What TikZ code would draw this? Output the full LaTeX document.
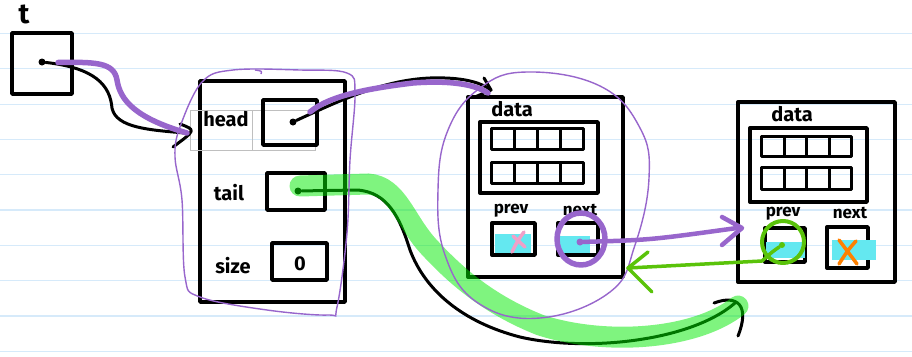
\documentclass[tikz,border=0pt]{standalone}
\usepackage{fontspec}
\setmainfont{Fira Sans}
\definecolor{rulec}{RGB}{214,234,250}
\definecolor{purp}{RGB}{152,102,204}
\definecolor{hlgreen}{RGB}{0,235,0}
\definecolor{arrgreen}{RGB}{90,195,10}
\definecolor{cyanf}{RGB}{100,232,240}
\definecolor{pinkx}{RGB}{240,160,200}
\definecolor{orangex}{RGB}{255,128,0}
\tikzset{
  hand/.style={draw=black,line width=3.4pt,line cap=round,line join=round},
  box/.style={hand,rectangle,inner sep=0pt},
  cellbox/.style={hand,rectangle,inner sep=0pt,anchor=north west},
  thinbox/.style={draw=black!25,line width=0.8pt,rectangle,inner sep=0pt},
  lbl/.style={font=\fontsize{20}{20}\selectfont\bfseries,inner sep=0pt},
  smlbl/.style={font=\fontsize{17}{17}\selectfont\bfseries,inner sep=0pt},
  dotb/.style={circle,fill=black,inner sep=0pt,minimum size=7pt},
  dotp/.style={circle,fill=purp,inner sep=0pt,minimum size=7pt},
  dotg/.style={circle,fill=arrgreen,inner sep=0pt,minimum size=6pt},
  purpthick/.style={draw=purp,line width=5.5pt,line cap=round,line join=round},
  purpthin/.style={draw=purp,line width=1.4pt},
  hl/.style={draw=hlgreen,draw opacity=0.5,line width=21pt,line cap=round},
  garrow/.style={draw=arrgreen,line width=3.5pt,line cap=round,line join=round},
  rule/.style={draw=rulec,line width=1.2pt}
}
\begin{document}
\begin{tikzpicture}[x=1pt,y=-1pt]
\useasboundingbox (0,0) rectangle (912,356);
\fill[white] (0,0) rectangle (912,356);
% ruled lines
\foreach \k in {0,...,9} \draw[rule] (0,33.5+35.3*\k) -- (912,33.5+35.3*\k);

% ---- t pointer ----
\node[font=\fontsize{28}{28}\selectfont\bfseries,inner sep=0pt] (tlabel) at (24,14) {t};
\node[box,minimum width=60pt,minimum height=61pt] (tbox) at (42,63.5) {};
\node[dotb] (tdot) at (42,62) {};

% ---- list struct ----
\node[box,minimum width=145pt,minimum height=221pt] (list) at (272.5,191.5) {};
\node[thinbox,minimum width=62pt,minimum height=40pt] (headcell) at (221,130) {};
\node[thinbox,minimum width=63pt,minimum height=40pt] (headvcell) at (283.5,130) {};
\node[lbl] (headlbl) at (226,119) {head};
\node[box,minimum width=54pt,minimum height=45pt] (headbox) at (290,122.5) {};
\node[dotb] (headdot) at (293,122) {};
\node[lbl] (taillbl) at (229,193) {tail};
\node[box,minimum width=58pt,minimum height=37pt] (tailbox) at (296,191.5) {};
\node[dotb] (taildot) at (298,191) {};
\node[lbl] (sizelbl) at (233,266) {size};
\node[box,minimum width=55pt,minimum height=37pt] (sizebox) at (299.5,261.5) {};
\node[lbl] (sizeval) at (300,264) {0};

% ---- node 1 ----
\node[box,minimum width=155pt,minimum height=180pt] (n1) at (545.5,187) {};
\node[lbl] (n1data) at (512,109) {data};
\node[box,minimum width=118pt,minimum height=71pt] (n1arr) at (539,157.5) {};
\foreach \i in {0,...,3} {
  \node[cellbox,minimum width=23pt,minimum height=21pt] (n1a\i) at (490+23*\i,127) {};
  \node[cellbox,minimum width=23pt,minimum height=21pt] (n1b\i) at (490+23*\i,161) {};
}
\node[smlbl] (n1prevl) at (511,211) {prev};
\node[smlbl] (n1nextl) at (580,210) {next};
\fill[cyanf] (495,234) rectangle (531,253);
\fill[cyanf] (560,236) rectangle (590,256);
\node[box,minimum width=43pt,minimum height=32pt] (n1prev) at (513.5,239) {};
\node[box,minimum width=40pt,minimum height=32pt] (n1next) at (578,239) {};
\draw[pinkx,line width=3.5pt,line cap=round] (513,236) -- (525,247) (524,232) .. controls (518,240) .. (512,252);

% ---- node 2 ----
\node[box,minimum width=157pt,minimum height=180pt] (n2) at (816.5,192) {};
\node[lbl] (n2data) at (792,114) {data};
\node[box,minimum width=117pt,minimum height=74pt] (n2arr) at (808.5,165) {};
\foreach \i in {0,...,3} {
  \node[cellbox,minimum width=22.5pt,minimum height=20pt] (n2a\i) at (760+22.5*\i,135) {};
  \node[cellbox,minimum width=22.5pt,minimum height=22pt] (n2b\i) at (760+22.5*\i,166) {};
}
\node[smlbl] (n2prevl) at (783,214) {prev};
\node[smlbl] (n2nextl) at (850,213) {next};
\node[box,minimum width=40pt,minimum height=34pt] (n2prev) at (785,245) {};
\node[box,minimum width=41pt,minimum height=41pt] (n2next) at (847.5,247.5) {};
\fill[cyanf] (766,242) rectangle (805,258);
\fill[cyanf] (832,240) rectangle (876,260);
\draw[orangex,line width=3.5pt,line cap=round] (839,240) -- (857,264) (856,241) .. controls (848,250) .. (839,264);

% ---- connectors ----
\coordinate (listin) at (185,133);
\coordinate (n1tip) at (491,90);
\coordinate (n2tip) at (742,228);
\coordinate (bottip) at (735,303);
\coordinate (gtip) at (628,268);

% t -> list (black)
\draw[hand,line width=3pt] (tdot) .. controls (95,68) and (110,85) .. (112,108)
  .. controls (116,128) and (150,130) .. (listin);
\draw[hand,line width=3pt] (180,124) .. controls (196,130) .. (173,147);
% head -> node1 (black)
\draw[hand,line width=3pt] (headdot) .. controls (345,98) and (385,80) .. (430,78)
  .. controls (462,77) and (480,82) .. (n1tip);
\draw[hand,line width=3pt] (484,78) -- (n1tip) -- (475,97);
% tail -> node2 (black)
\draw[hand,line width=3pt] (taildot) -- (357,190) .. controls (388,192) and (400,218) .. (410,250)
  .. controls (425,290) and (462,322) .. (520,337)
  .. controls (585,352) and (690,342) .. (bottip);
\draw[hand,line width=3pt] (714,303) .. controls (738,294) and (750,306) .. (738,336);

% green highlight
\draw[hl] (300,186) -- (368,184) .. controls (398,186) and (405,222) .. (430,248)
  .. controls (458,278) and (490,305) .. (540,325)
  .. controls (605,346) and (695,340) .. (738,306);

% purple outlines
\draw[purpthin] plot[smooth cycle,tension=0.6] coordinates {
  (202,82) (233,70) (300,70) (347,73) (355,93) (350,160) (347,233) (337,307)
  (328,315) (267,310) (200,297) (185,277) (182,200) (175,157) (180,127)};
\draw[purpthin] (255,70) .. controls (262,71) .. (261,74);
\draw[purpthin] plot[smooth cycle,tension=0.7] coordinates {
  (527,72) (600,86) (640,128) (649,178) (635,245) (610,292) (540,318)
  (478,303) (445,255) (438,190) (448,130) (480,88)};

% purple thick pointers
\draw[purpthick] (tbox.center) ++(16,-1) .. controls (95,62) and (114,62) .. (117,80)
  .. controls (120,100) and (135,118) .. (187,133);
\draw[purpthick] (310,112) .. controls (330,95) and (372,88) .. (413,83)
  .. controls (452,80) and (476,85) .. (488,93);
\draw[purpthick] (n1next.center) ++(3,0) ellipse [x radius=24pt, y radius=26pt];
\node[dotp] (n1dot) at (580,242) {};
\draw[purpthick,line width=4.5pt] (n1dot) .. controls (650,240) .. (737,228);
\draw[purpthick,line width=4.5pt] (722,217) -- (n2tip) -- (722,245);

% green pointer prev <- node2.prev
\draw[garrow,line width=4pt] (783,242) circle [radius=21pt];
\node[dotg] (n2dot) at (782,245) {};
\draw[garrow] (n2dot) .. controls (772,252) .. (762,261) -- (gtip);
\draw[garrow] (648,252) -- (gtip) -- (652,292);
\end{tikzpicture}
\end{document}
